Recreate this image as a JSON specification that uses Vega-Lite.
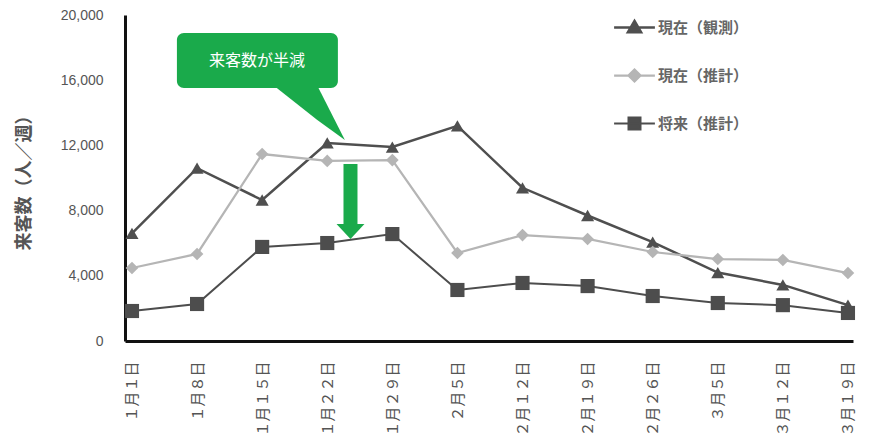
{
  "$schema": "https://vega.github.io/schema/vega-lite/v6.json",
  "width": 728,
  "height": 326,
  "autosize": {"type": "none"},
  "padding": {"left": 125, "top": 15, "right": 25, "bottom": 105},
  "background": "white",
  "config": {
    "view": {"stroke": null},
    "font": "Noto Sans CJK JP"
  },
  "data": {
    "values": [
      {"date": "2021-01-01", "series": "現在（観測）", "value": 6600},
      {"date": "2021-01-08", "series": "現在（観測）", "value": 10600},
      {"date": "2021-01-15", "series": "現在（観測）", "value": 8650},
      {"date": "2021-01-22", "series": "現在（観測）", "value": 12150},
      {"date": "2021-01-29", "series": "現在（観測）", "value": 11900},
      {"date": "2021-02-05", "series": "現在（観測）", "value": 13200},
      {"date": "2021-02-12", "series": "現在（観測）", "value": 9400},
      {"date": "2021-02-19", "series": "現在（観測）", "value": 7700},
      {"date": "2021-02-26", "series": "現在（観測）", "value": 6070},
      {"date": "2021-03-05", "series": "現在（観測）", "value": 4200},
      {"date": "2021-03-12", "series": "現在（観測）", "value": 3440},
      {"date": "2021-03-19", "series": "現在（観測）", "value": 2200},
      {"date": "2021-01-01", "series": "現在（推計）", "value": 4480},
      {"date": "2021-01-08", "series": "現在（推計）", "value": 5340},
      {"date": "2021-01-15", "series": "現在（推計）", "value": 11470},
      {"date": "2021-01-22", "series": "現在（推計）", "value": 11050},
      {"date": "2021-01-29", "series": "現在（推計）", "value": 11100},
      {"date": "2021-02-05", "series": "現在（推計）", "value": 5400},
      {"date": "2021-02-12", "series": "現在（推計）", "value": 6500},
      {"date": "2021-02-19", "series": "現在（推計）", "value": 6260},
      {"date": "2021-02-26", "series": "現在（推計）", "value": 5460},
      {"date": "2021-03-05", "series": "現在（推計）", "value": 5030},
      {"date": "2021-03-12", "series": "現在（推計）", "value": 4970},
      {"date": "2021-03-19", "series": "現在（推計）", "value": 4170},
      {"date": "2021-01-01", "series": "将来（推計）", "value": 1840},
      {"date": "2021-01-08", "series": "将来（推計）", "value": 2270},
      {"date": "2021-01-15", "series": "将来（推計）", "value": 5770},
      {"date": "2021-01-22", "series": "将来（推計）", "value": 6010},
      {"date": "2021-01-29", "series": "将来（推計）", "value": 6560},
      {"date": "2021-02-05", "series": "将来（推計）", "value": 3130},
      {"date": "2021-02-12", "series": "将来（推計）", "value": 3560},
      {"date": "2021-02-19", "series": "将来（推計）", "value": 3370},
      {"date": "2021-02-26", "series": "将来（推計）", "value": 2760},
      {"date": "2021-03-05", "series": "将来（推計）", "value": 2330},
      {"date": "2021-03-12", "series": "将来（推計）", "value": 2200},
      {"date": "2021-03-19", "series": "将来（推計）", "value": 1720}
    ]
  },
  "encoding": {
    "x": {
      "field": "date",
      "type": "temporal",
      "scale": {
        "domain": [
          {"year": 2020, "month": 12, "date": 31, "hours": 6, "utc": true},
          {"year": 2021, "month": 3, "date": 19, "hours": 13, "utc": true}
        ],
        "nice": false
      },
      "axis": {
        "title": null,
        "grid": false,
        "ticks": false,
        "domainColor": "#111111",
        "domainWidth": 3,
        "labelAngle": -90,
        "labelPadding": 20,
        "labelFontSize": 15,
        "labelColor": "#555555",
        "labelFont": "Noto Sans CJK JP",
        "labelOverlap": false,
        "values": [
          {"year": 2021, "month": 1, "date": 1, "utc": true},
          {"year": 2021, "month": 1, "date": 8, "utc": true},
          {"year": 2021, "month": 1, "date": 15, "utc": true},
          {"year": 2021, "month": 1, "date": 22, "utc": true},
          {"year": 2021, "month": 1, "date": 29, "utc": true},
          {"year": 2021, "month": 2, "date": 5, "utc": true},
          {"year": 2021, "month": 2, "date": 12, "utc": true},
          {"year": 2021, "month": 2, "date": 19, "utc": true},
          {"year": 2021, "month": 2, "date": 26, "utc": true},
          {"year": 2021, "month": 3, "date": 5, "utc": true},
          {"year": 2021, "month": 3, "date": 12, "utc": true},
          {"year": 2021, "month": 3, "date": 19, "utc": true}
        ],
        "labelExpr": "substring('０１２３４５６７８９', utcmonth(datum.value)+1, utcmonth(datum.value)+2) + '月' + (utcdate(datum.value) >= 10 ? substring('０１２３４５６７８９', floor(utcdate(datum.value)/10), floor(utcdate(datum.value)/10)+1) : '') + substring('０１２３４５６７８９', utcdate(datum.value)%10, utcdate(datum.value)%10+1) + '日'"
      }
    },
    "y": {
      "field": "value",
      "type": "quantitative",
      "scale": {"domain": [0, 20000], "nice": false},
      "axis": {
        "title": "来客数（人／週）",
        "titleFontSize": 18,
        "titleColor": "#555555",
        "titleFontWeight": "bold",
        "titlePadding": 27,
        "grid": false,
        "ticks": false,
        "domainColor": "#111111",
        "domainWidth": 3,
        "values": [0, 4000, 8000, 12000, 16000, 20000],
        "format": ",d",
        "labelFont": "Liberation Sans",
        "labelFontSize": 14,
        "labelColor": "#555555",
        "labelPadding": 22
      }
    }
  },
  "layer": [
    {
      "mark": {"type": "line"},
      "encoding": {
        "color": {
          "field": "series",
          "type": "nominal",
          "scale": {
            "domain": ["現在（観測）", "現在（推計）", "将来（推計）"],
            "range": ["#4f4f4f", "#b5b5b5", "#4d4d4d"]
          },
          "legend": {
            "title": null,
            "orient": "none",
            "legendX": 502,
            "legendY": 5,
            "padding": 0,
            "symbolSize": 144,
            "labelOffset": 16,
            "labelFontSize": 15,
            "labelFontWeight": "bold",
            "labelColor": "#666666",
            "labelFont": "Noto Sans CJK JP",
            "rowPadding": 27,
            "encode": {
              "symbols": {
                "update": {
                  "shape": {"signal": "datum.value === '現在（観測）' ? 'M-3.4,0H3.4M0,-1.1L1.1,0.8L-1.1,0.8Z' : datum.value === '現在（推計）' ? 'M-3.4,0H3.4M0,-1L1,0L0,1L-1,0Z' : 'M-3.4,0H3.4M-1,-1H1V1H-1Z'"},
                  "fill": {"signal": "scale('color', datum.value)"},
                  "stroke": {"signal": "scale('color', datum.value)"},
                  "strokeWidth": {"value": 2.5},
                  "opacity": {"value": 1}
                }
              }
            }
          }
        },
        "strokeWidth": {
          "field": "series",
          "type": "nominal",
          "scale": {
            "domain": ["現在（観測）", "現在（推計）", "将来（推計）"],
            "range": [2.5, 2, 3]
          },
          "legend": null
        }
      }
    },
    {
      "transform": [{"filter": "datum.series === '現在（観測）'"}],
      "mark": {"type": "point", "filled": true, "opacity": 1, "shape": "triangle-up", "size": 170},
      "encoding": {"color": {"field": "series", "type": "nominal"}}
    },
    {
      "transform": [{"filter": "datum.series === '現在（推計）'"}],
      "mark": {"type": "point", "filled": true, "opacity": 1, "shape": "diamond", "size": 160},
      "encoding": {"color": {"field": "series", "type": "nominal"}}
    },
    {
      "transform": [{"filter": "datum.series === '将来（推計）'"}],
      "mark": {"type": "point", "filled": true, "opacity": 1, "shape": "square", "size": 200},
      "encoding": {"color": {"field": "series", "type": "nominal"}}
    },
    {
      "data": {"values": [{"x1": "2021-01-05T20:00:00Z", "x2": "2021-01-23T03:30:00Z", "y1": 18900, "y2": 15520}]},
      "mark": {"type": "rect", "color": "#1aaa4b", "cornerRadius": 7},
      "encoding": {
        "x": {"field": "x1", "type": "temporal"},
        "x2": {"field": "x2"},
        "y": {"field": "y1", "type": "quantitative"},
        "y2": {"field": "y2"}
      }
    },
    {
      "data": {"values": [
        {"x": "2021-01-16T04:00:00Z", "top": 15700, "bottom": 15700},
        {"x": "2021-01-20T21:30:00Z", "top": 15700, "bottom": 13570},
        {"x": "2021-01-23T21:30:00Z", "top": 12330, "bottom": 12330}
      ]},
      "mark": {"type": "area", "color": "#1aaa4b", "opacity": 1, "interpolate": "linear"},
      "encoding": {
        "x": {"field": "x", "type": "temporal"},
        "y": {"field": "top", "type": "quantitative"},
        "y2": {"field": "bottom"}
      }
    },
    {
      "data": {"values": [{"x": "2021-01-14T10:30:00Z", "y": 17200, "text": "来客数が半減"}]},
      "mark": {"type": "text", "color": "white", "fontSize": 16, "font": "Noto Sans CJK JP", "align": "center", "baseline": "middle"},
      "encoding": {
        "x": {"field": "x", "type": "temporal"},
        "y": {"field": "y", "type": "quantitative"},
        "text": {"field": "text"}
      }
    },
    {
      "data": {"values": [{"x": "2021-01-24T12:00:00Z", "y1": 10860, "y2": 7100}]},
      "mark": {"type": "rule", "color": "#1aaa4b", "strokeWidth": 14, "strokeCap": "butt"},
      "encoding": {
        "x": {"field": "x", "type": "temporal"},
        "y": {"field": "y1", "type": "quantitative"},
        "y2": {"field": "y2"}
      }
    },
    {
      "data": {"values": [
        {"x": "2021-01-23T00:00:00Z", "top": 7180, "bottom": 7180},
        {"x": "2021-01-24T12:00:00Z", "top": 7180, "bottom": 6260},
        {"x": "2021-01-26T00:00:00Z", "top": 7180, "bottom": 7180}
      ]},
      "mark": {"type": "area", "color": "#1aaa4b", "opacity": 1, "interpolate": "linear"},
      "encoding": {
        "x": {"field": "x", "type": "temporal"},
        "y": {"field": "top", "type": "quantitative"},
        "y2": {"field": "bottom"}
      }
    }
  ]
}
